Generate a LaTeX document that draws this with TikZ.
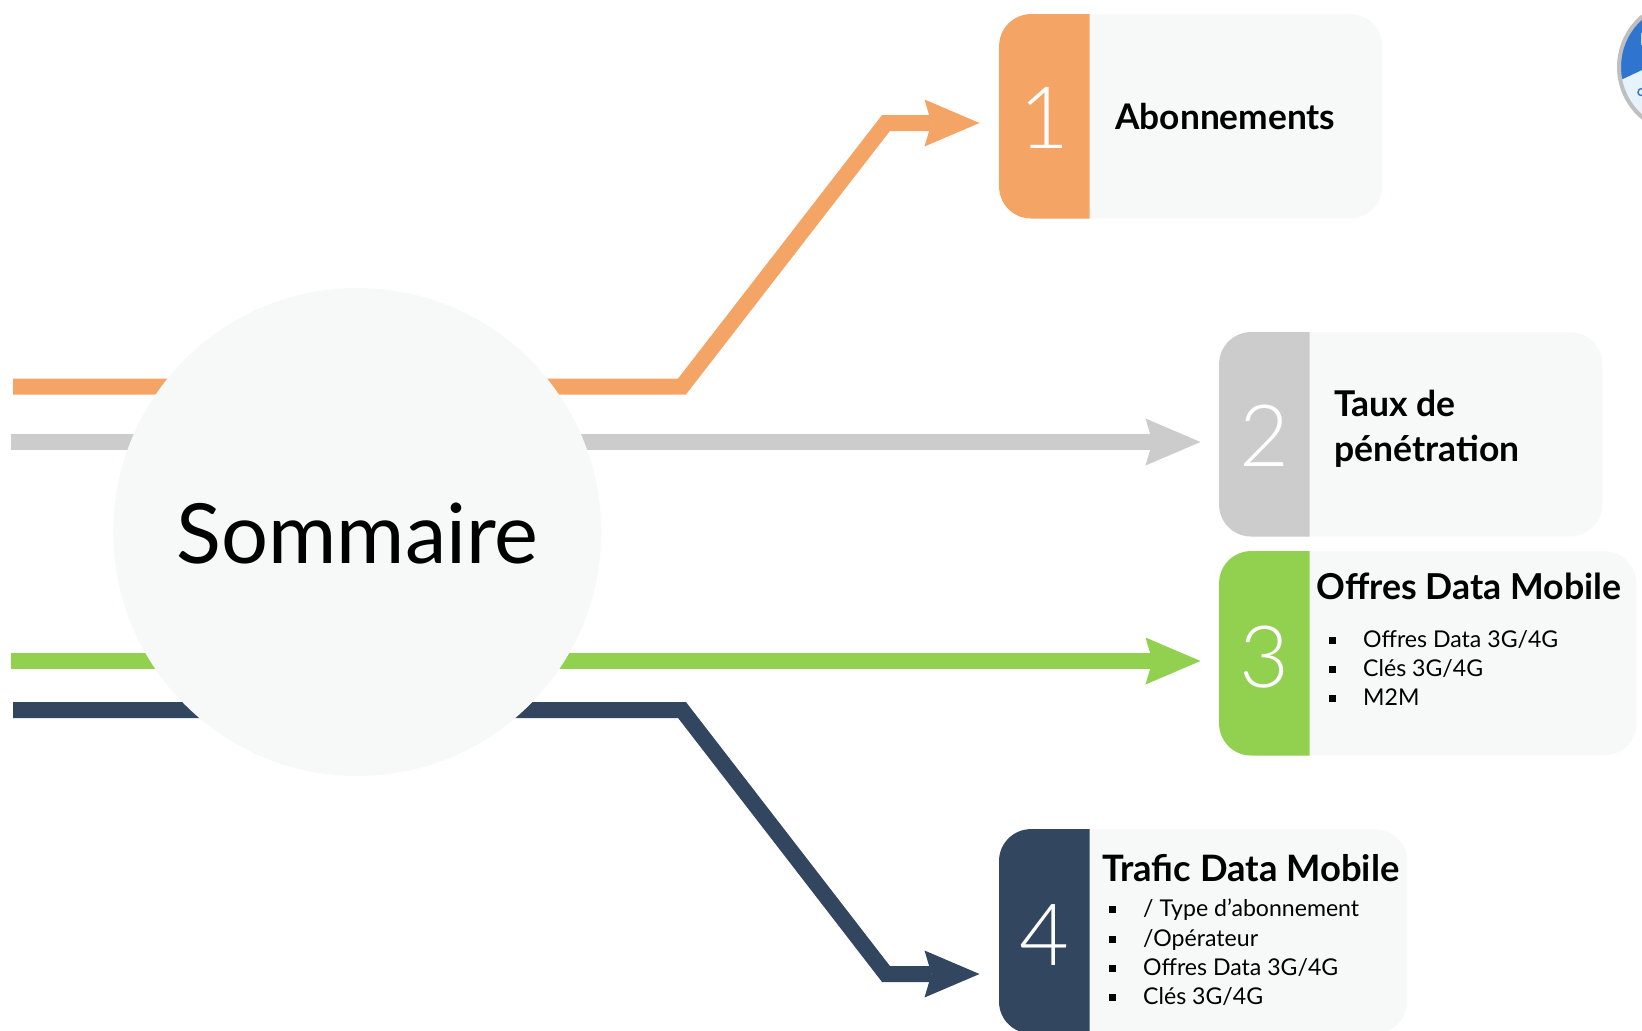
\documentclass[tikz,border=0pt]{standalone}
\usepackage{fontspec}
\setmainfont{Lato}
\newfontfamily\thinfont{Lato Light}
\usetikzlibrary{arrows.meta}
\definecolor{cOrange}{HTML}{F4A566}
\definecolor{cGray}{HTML}{CCCCCC}
\definecolor{cGreen}{HTML}{92D050}
\definecolor{cNavy}{HTML}{32475F}
\definecolor{cPale}{HTML}{F7F9F8}
\definecolor{cBlue}{HTML}{2F75D0}
\definecolor{cIce}{HTML}{E6F2FC}
\definecolor{cRing}{HTML}{BFBFBF}
\newcommand{\bul}{\rule[3.5pt]{7pt}{7pt}\hspace{27.5pt}}
\newcommand{\tabfill}[2]{\fill[#2] ([xshift=90.5pt]#1.north west) [rounded corners=32pt] -- (#1.north west) -- (#1.south west) [sharp corners] -- ([xshift=90.5pt]#1.south west) -- cycle;}
\tikzset{
  x=1pt,y=-1pt,
  conn/.style={line width=16pt,line join=miter,-{Stealth[length=55pt,width=47pt,inset=7pt,line width=0pt]}},
  card/.style={fill=cPale,rounded corners=32pt,inner sep=0pt,minimum height=204pt},
  num/.style={text=white,font=\thinfont\fontsize{86}{86}\selectfont,inner sep=0pt},
  head/.style={anchor=base west,inner sep=0pt,font=\fontsize{35.3}{35.3}\bfseries\selectfont},
  headlines/.style={anchor=north west,inner sep=0pt,align=left,font=\fontsize{35.5}{45}\bfseries\selectfont},
  items/.style={anchor=north west,inner sep=0pt,align=left,font=\fontsize{23.1}{29.3}\selectfont},
}
\begin{document}
\begin{tikzpicture}
\useasboundingbox (0,0) rectangle (1642,1031);
\clip (0,0) rectangle (1642,1031);
\fill[white] (0,0) rectangle (1642,1031);
% cards
\node[card,minimum width=383pt] (c1) at (1190.8,116.3) {};
\node[card,minimum width=383pt] (c2) at (1410.8,434.3) {};
\node[card,minimum width=417pt] (c3) at (1427.8,653.3) {};
\node[card,minimum width=408pt] (c4) at (1203.2,931.3) {};
\tabfill{c1}{cOrange}
\tabfill{c2}{cGray}
\tabfill{c3}{cGreen}
\tabfill{c4}{cNavy}
% connector way points
\coordinate (o0) at (13,386.5); \coordinate (o1) at (682,386.5); \coordinate (o2) at (886,123); \coordinate (o3) at (979.5,123);
\coordinate (g0) at (11,442); \coordinate (g1) at (1200.5,442);
\coordinate (v0) at (11,661); \coordinate (v1) at (1200.5,661);
\coordinate (n0) at (13,710); \coordinate (n1) at (682,710); \coordinate (n2) at (886,974); \coordinate (n3) at (979.5,974);
\draw[conn,cOrange] (o0) -- (o1) -- (o2) -- (o3);
\draw[conn,cGray] (g0) -- (g1);
\draw[conn,cGreen] (v0) -- (v1);
\draw[conn,cNavy] (n0) -- (n1) -- (n2) -- (n3);
% centre disc
\node[circle,fill=cPale,minimum size=488pt,inner sep=0pt] (hub) at (357.3,532) {};
\node[anchor=base,inner sep=0pt,font=\fontsize{83}{83}\selectfont] (title) at (357.5,563.5) {Sommaire};
% numbers
\node[num] (d1) at (1044,118) {1};
\node[num] (d2) at (1264,436) {2};
\node[num] (d3) at (1264,657) {3};
\node[num] (d4) at (1044,935) {4};
% texts
\node[head] (t1) at (1115,129) {Abonnements};
\node[headlines] (t2) at (1334,389.5) {Taux de\\pénétration};
\node[head,font=\fontsize{35.7}{35.7}\bfseries\selectfont] (t3) at (1316.5,599.5) {Offres Data Mobile};
\node[items] (l3) at (1328.5,630) {\bul Offres Data 3G/4G\\\bul Clés 3G/4G\\\bul M2M};
\node[head,font=\fontsize{36.4}{36.4}\bfseries\selectfont] (t4) at (1102,881) {Trafic Data Mobile};
\node[items] (l4) at (1108.5,899) {\bul / Type d’abonnement\\\bul /Opérateur\\\bul Offres Data 3G/4G\\\bul Clés 3G/4G};
% logo fragment at the edge
\begin{scope}
\clip (1685,67) circle (66);
\fill[cIce] (1610,0) rectangle (1642,130);
\fill[cBlue] (1610,0) -- (1642,0) -- (1642,70) -- (1625,78) -- (1610,84) -- cycle;
\fill[white!70!cBlue] (1640.5,33) rectangle (1642,45);
\draw[cBlue,line width=1.4pt] (1642,95.5) arc (80:280:3.5);
\end{scope}
\draw[cRing,line width=4pt] (1685,67) circle (66);
\end{tikzpicture}
\end{document}
